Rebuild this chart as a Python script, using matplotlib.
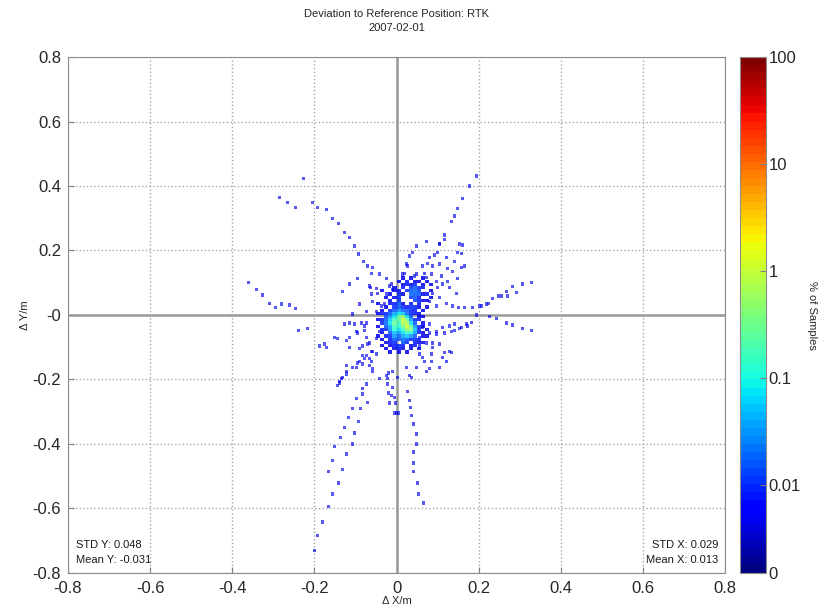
import numpy as np
import matplotlib
matplotlib.use("Agg")
import matplotlib.pyplot as plt
from matplotlib.colors import LogNorm

plt.rcParams['font.family'] = ['Liberation Sans', 'DejaVu Sans']

title = "Deviation to Reference Position: RTK\n2007-02-01"

# single-sample bins, deviation in metres
pts_x = [
    # upper left ray
    -0.226, -0.285, -0.266, -0.246, -0.205, -0.192, -0.170, -0.156, -0.141, -0.127, -0.114,
    -0.102, -0.093, -0.080, -0.071, -0.061, -0.063, -0.049, -0.046, -0.024, -0.012, -0.010,
    # left ray
    -0.360, -0.341, -0.326, -0.309, -0.295, -0.280, -0.261, -0.246, -0.239, -0.217,
    # lower left cluster
    -0.188, -0.175, -0.170, -0.151, -0.144, -0.114, -0.102, -0.085, -0.073, -0.097, -0.078,
    -0.090, -0.071, -0.083, -0.061, -0.122, -0.107, -0.095, -0.078, -0.139, -0.132, -0.066,
    -0.058, -0.041, -0.022, -0.049, -0.041, -0.037, -0.029, -0.024,
    -0.127, -0.114, -0.078, -0.122, -0.095, -0.073, -0.114, -0.083, -0.066, -0.058, -0.122,
    -0.090, -0.073, -0.061,
    # lower left long rays
    -0.139, -0.073, -0.083, -0.083, -0.097, -0.071, -0.107, -0.088, -0.117, -0.093, -0.127,
    -0.102, -0.136, -0.107, -0.151, -0.122, -0.156, -0.132, -0.166, -0.141, -0.156, -0.166,
    -0.180, -0.192, -0.200, -0.144, -0.134, -0.122, -0.097, -0.083, -0.066, -0.049, -0.058,
    # vertical streak
    -0.022, -0.019, -0.005, -0.002, -0.017, -0.012, -0.010, -0.019, -0.005, 0.000, 0.005,
    0.002, -0.010, -0.024,
    # lower right streak
    0.024, 0.032, 0.027, 0.032, 0.034, 0.037, 0.041, 0.049, 0.049, 0.041, 0.041, 0.041,
    0.051, 0.054, 0.066,
    # lower right near centre
    0.068, 0.080, 0.056, 0.085, 0.112, 0.129, 0.117, 0.134, 0.063, 0.080, 0.097, 0.112,
    0.129, 0.141, 0.056, 0.073, 0.088, 0.105, 0.063, 0.085, 0.105, 0.122, 0.073, 0.049,
    0.037, 0.080, 0.088, 0.056,
    # right rays
    0.329, 0.307, 0.283, 0.268, 0.248, 0.234, 0.219, 0.202, 0.185, 0.166, 0.151, 0.195,
    0.226, 0.244, 0.268, 0.283, 0.307, 0.329, 0.173, 0.158, 0.134, 0.117, 0.097, 0.183,
    0.170, 0.153, 0.141, 0.207, 0.224, 0.256, 0.270, 0.292,
    # upper right rays
    0.195, 0.178, 0.161, 0.149, 0.141, 0.134, 0.117, 0.117, 0.105, 0.161, 0.149, 0.039,
    0.032, 0.049, 0.100, 0.093, 0.075, 0.063, 0.088, 0.105, 0.141, 0.124, 0.136, 0.158,
    0.166, 0.027, 0.019, 0.044, 0.068, 0.085, 0.110, 0.124, 0.149, 0.100, 0.112, 0.073,
    0.105, 0.080, 0.122, 0.153, 0.158, 0.146, 0.129, 0.097, 0.073, 0.049, 0.105, 0.122,
    0.136, 0.080, 0.097, 0.088, 0.015, 0.024,
    # upper left near centre
    -0.058, -0.041, -0.017, -0.132, -0.114, -0.095, -0.066, -0.061, -0.058, -0.090, -0.073,
    -0.107, -0.049,
]
pts_y = [
    0.422, 0.363, 0.350, 0.332, 0.350, 0.332, 0.326, 0.298, 0.285, 0.257, 0.239,
    0.214, 0.189, 0.167, 0.152, 0.130, 0.084, 0.081, 0.068, 0.112, 0.096, 0.078,
    0.102, 0.078, 0.062, 0.037, 0.022, 0.034, 0.031, 0.019, -0.047, -0.043,
    -0.096, -0.090, -0.102, -0.071, -0.074, -0.071, -0.028, -0.025, -0.025, -0.050, -0.047,
    -0.105, -0.090, -0.127, -0.112, -0.174, -0.164, -0.149, -0.136, -0.205, -0.195, -0.158,
    -0.174, -0.198, -0.198, -0.074, -0.050, 0.028, 0.034, 0.065,
    -0.028, -0.025, -0.034, -0.080, -0.056, -0.071, -0.102, -0.096, -0.087, -0.112, -0.158,
    -0.143, -0.127, -0.143,
    -0.211, -0.214, -0.229, -0.245, -0.260, -0.270, -0.291, -0.291, -0.319, -0.329, -0.350,
    -0.366, -0.381, -0.400, -0.409, -0.431, -0.450, -0.478, -0.484, -0.521, -0.555, -0.595,
    -0.642, -0.685, -0.729, -0.218, -0.198, -0.183, -0.164, -0.152, -0.136, -0.121, -0.167,
    -0.214, -0.242, -0.257, -0.273, -0.273, -0.251, -0.226, -0.180, -0.304, -0.304, -0.304,
    -0.195, -0.174, -0.189,
    -0.164, -0.189, -0.236, -0.264, -0.288, -0.313, -0.338, -0.369, -0.400, -0.425, -0.459,
    -0.484, -0.521, -0.555, -0.583,
    -0.143, -0.167, -0.121, -0.121, -0.133, -0.112, -0.115, -0.115, -0.040, -0.028, -0.050,
    -0.040, -0.034, -0.028, -0.071, -0.087, -0.102, -0.090, -0.133, -0.143, -0.164, -0.143,
    -0.174, -0.164, -0.195, -0.056, -0.087, -0.096,
    0.102, 0.096, 0.087, 0.074, 0.059, 0.050, 0.034, 0.028, 0.022, 0.022, 0.022, 0.000,
    -0.006, -0.012, -0.025, -0.031, -0.043, -0.047, -0.034, -0.040, -0.050, -0.056, -0.059,
    -0.022, -0.028, -0.043, -0.047, 0.028, 0.037, 0.059, 0.059, 0.071,
    0.431, 0.400, 0.360, 0.329, 0.307, 0.291, 0.248, 0.233, 0.220, 0.217, 0.195, 0.195,
    0.183, 0.214, 0.195, 0.186, 0.161, 0.152, 0.152, 0.158, 0.167, 0.143, 0.136, 0.146,
    0.152, 0.152, 0.130, 0.121, 0.130, 0.127, 0.121, 0.105, 0.112, 0.084, 0.096, 0.229,
    0.223, 0.177, 0.177, 0.220, 0.192, 0.068, 0.084, 0.105, 0.115, 0.127, 0.053, 0.037,
    0.028, 0.043, 0.028, 0.068, 0.127, 0.158,
    0.146, 0.127, 0.090, 0.074, 0.096, 0.112, 0.090, 0.065, 0.043, 0.034, 0.012,
    0.003, 0.012,
]
single_pct = 0.005

# dense bins around the reference position, % of samples (rows top to bottom)
core_x = [-0.045, -0.035, -0.025, -0.015, -0.005, 0.005, 0.015, 0.025, 0.035, 0.045,
          0.055, 0.065, 0.075, 0.085]
core_y = [0.115, 0.105, 0.095, 0.085, 0.075, 0.065, 0.055, 0.045, 0.035, 0.025, 0.015,
          0.005, -0.005, -0.015, -0.025, -0.035, -0.045, -0.055, -0.065, -0.075, -0.085,
          -0.095, -0.105, -0.115]
core_pct = [
    [0, 0, 0, 0, 0, 0, .005, 0, .005, 0, 0, .005, 0, 0],
    [0, 0, 0, 0, 0, .005, 0, .008, 0, .005, .005, 0, .005, 0],
    [0, 0, 0, 0, 0, 0, .005, .008, .005, .01, 0, .005, 0, .005],
    [0, 0, 0, 0, .005, 0, .008, 0, .012, .015, .01, .008, 0, 0],
    [0, .005, 0, 0, .005, .008, 0, .01, .015, .02, .012, 0, 0, .005],
    [0, 0, 0, .005, 0, .008, .005, 0, .02, .015, .015, .005, .008, 0],
    [0, 0, .005, 0, .005, .01, 0, 0, .012, .015, .008, 0, 0, .005],
    [0, 0, 0, .005, 0, .01, 0, 0, 0, .012, .01, .005, .005, 0],
    [.005, 0, 0, .008, .008, .015, .005, 0, .008, 0, .008, 0, 0, 0],
    [0, 0, .005, 0, .01, .015, .01, .008, .01, .01, .005, 0, .005, 0],
    [0, .005, 0, .01, .015, .03, .02, .015, .01, .008, 0, .005, 0, 0],
    [.005, .008, .01, .015, .04, .08, .05, .02, .01, .008, .005, 0, 0, 0],
    [0, 0, .015, .03, .08, .3, .6, .08, .015, 0, .005, .005, 0, 0],
    [.005, .008, .015, .05, .15, .3, 1.0, .3, .03, .01, .008, 0, 0, 0],
    [0, .01, .02, .08, .3, .15, .7, .7, .08, .015, 0, .005, 0, 0],
    [.005, 0, .015, .04, .15, .12, .3, 1.0, .3, .03, .01, .005, 0, 0],
    [0, .008, .01, .03, .12, .08, .15, .5, .4, .05, .01, 0, .005, 0],
    [0, .005, 0, .015, .05, .04, .08, .15, .12, .04, .01, .005, 0, 0],
    [.005, 0, .008, .01, .03, .02, .04, .05, .03, .015, 0, .005, .005, 0],
    [0, .005, 0, .008, .015, .015, .02, .015, .01, .01, .008, 0, 0, 0],
    [0, 0, .005, .008, .01, 0, .015, .01, 0, .008, .005, .005, 0, 0],
    [0, .005, 0, .005, .008, .01, .008, 0, .005, .008, 0, 0, 0, 0],
    [0, 0, .005, 0, .005, .008, .005, 0, .005, 0, .005, 0, 0, 0],
    [0, 0, 0, .005, 0, .005, 0, .005, 0, 0, 0, 0, 0, 0],
]

std_x, mean_x = 0.029, 0.013
std_y, mean_y = 0.048, -0.031

ticks = [-0.8, -0.6, -0.4, -0.2, 0, 0.2, 0.4, 0.6, 0.8]
xtick_labels = ["-0.8", "-0.6", "-0.4", "-0.2", "0", "0.2", "0.4", "0.6", "0.8"]
ytick_labels = ["-0.8", "-0.6", "-0.4", "-0.2", "-0", "0.2", "0.4", "0.6", "0.8"]
cbar_ticks = [0.0015, 0.01, 0.1, 1, 10, 100]
cbar_labels = ["0", "0.01", "0.1", "1", "10", "100"]

fig = plt.figure(figsize=(8.27, 6.13), dpi=100)
ax = fig.add_axes([0.0822, 0.0653, 0.7945, 0.8417])
cax = fig.add_axes([0.895, 0.0653, 0.031, 0.8417])

cmap = plt.get_cmap('jet', 64)
norm = LogNorm(vmin=0.0015, vmax=100)

ax.grid(True, linestyle=':', color='0.65', linewidth=1)
ax.axhline(0, color='0.6', lw=1.8, zorder=1)
ax.axvline(0, color='0.6', lw=1.8, zorder=1)

# isolated bins as small squares
ax.scatter(pts_x, pts_y, c=np.full(len(pts_x), single_pct), s=5, marker='s',
           cmap=cmap, norm=norm, linewidths=0, alpha=0.65, zorder=3)

# dense core as a binned mesh
cx = np.array(core_x)
cy = np.array(core_y)
x_edges = np.append(cx - 0.005, cx[-1] + 0.005)
y_edges = np.append(cy + 0.005, cy[-1] - 0.005)
grid = np.ma.masked_equal(np.array(core_pct), 0)
mesh = ax.pcolormesh(x_edges, y_edges, grid, cmap=cmap, norm=norm, zorder=4,
                     alpha=0.85)

ax.set_xlim(-0.8, 0.8)
ax.set_ylim(-0.8, 0.8)
ax.set_xticks(ticks)
ax.set_xticklabels(xtick_labels)
ax.set_yticks(ticks)
ax.set_yticklabels(ytick_labels)
ax.set_axisbelow(True)
ax.tick_params(direction='in', length=4, colors='0.5', labelcolor='0.15',
               labelsize=12)
ax.tick_params(axis='x', pad=6)
ax.tick_params(axis='y', pad=5)
for s in ax.spines.values():
    s.set_color('0.55')

ax.set_xlabel("\u0394 X/m", fontsize=8, labelpad=0, color='0.15')
ax.set_ylabel("\u0394 Y/m", fontsize=8, labelpad=2, color='0.15')
ax.set_title(title, fontsize=8, pad=19, linespacing=1.4, color='0.15')

ax.text(0.012, 0.016, "STD Y: %.3f\nMean Y: %.3f" % (std_y, mean_y),
        transform=ax.transAxes, fontsize=8, va='bottom', ha='left',
        linespacing=1.6, color='0.1')
ax.text(0.99, 0.016, "STD X: %.3f\nMean X: %.3f" % (std_x, mean_x),
        transform=ax.transAxes, fontsize=8, va='bottom', ha='right',
        linespacing=1.6, color='0.1')

sm = plt.cm.ScalarMappable(norm=norm, cmap=cmap)
cb = fig.colorbar(sm, cax=cax)
cb.set_ticks(cbar_ticks)
cb.set_ticklabels(cbar_labels)
cb.minorticks_off()
cb.ax.tick_params(direction='in', length=4, colors='0.5', labelcolor='0.15',
                  labelsize=12, pad=2)
cb.outline.set_edgecolor('0.55')
cb.set_label("% of Samples", fontsize=8, rotation=270, labelpad=12, color='0.15')

fig.savefig("out.png", dpi=100)
